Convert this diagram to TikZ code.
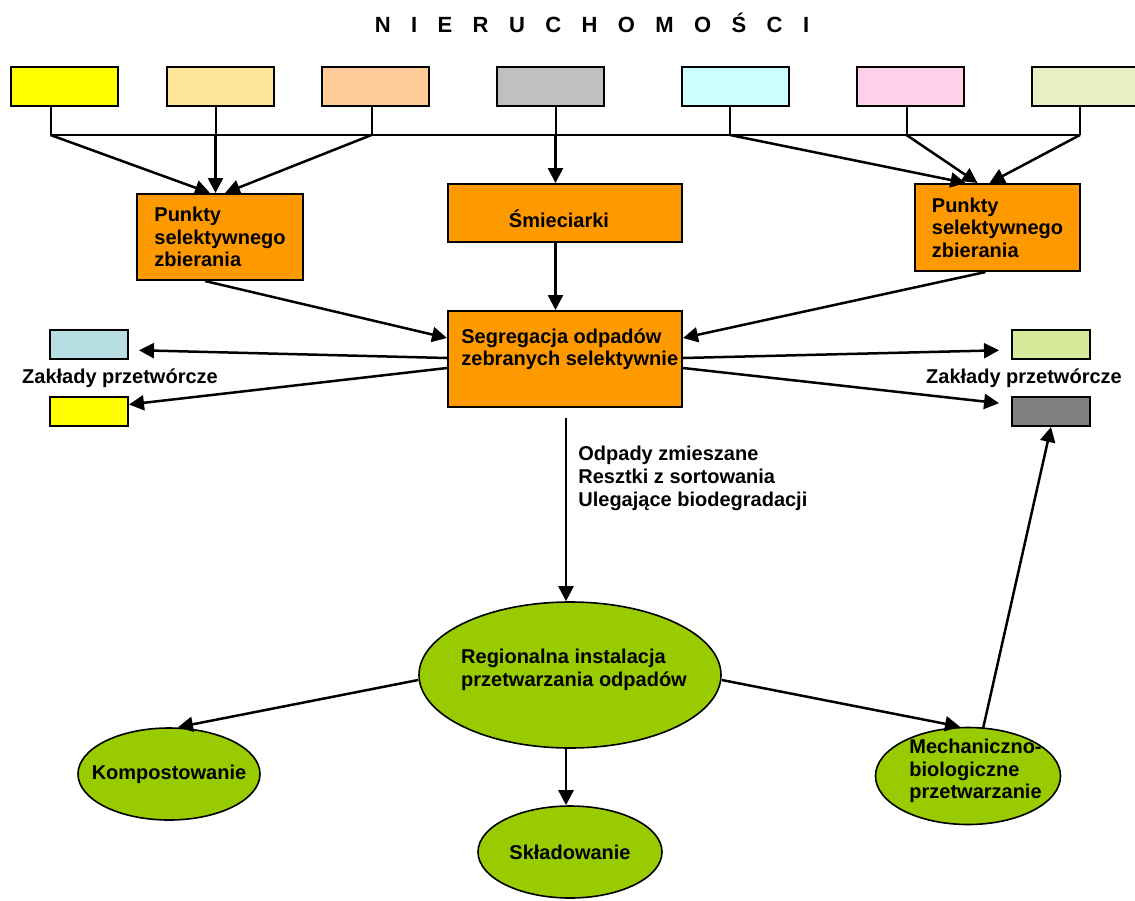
\documentclass[tikz,border=0pt]{standalone}
\usepackage{fontspec}
\setmainfont{Liberation Sans}
\usetikzlibrary{shapes.geometric,arrows.meta}
\definecolor{cYellow}{HTML}{FFFF00}
\definecolor{cCream}{HTML}{FFE699}
\definecolor{cPeach}{HTML}{FFCC99}
\definecolor{cSilver}{HTML}{C0C0C0}
\definecolor{cCyan}{HTML}{CCFFFF}
\definecolor{cPink}{HTML}{FFD1E8}
\definecolor{cLime}{HTML}{E6F0C2}
\definecolor{cOrange}{HTML}{FF9900}
\definecolor{cBlue}{HTML}{B7DEE3}
\definecolor{cGreenish}{HTML}{D7E99B}
\definecolor{cGrey}{HTML}{808080}
\definecolor{cGreen}{HTML}{99CC00}
\tikzset{
  bin/.style={draw, line width=1pt, minimum width=53.5pt, minimum height=19.5pt, inner sep=0pt},
  hub/.style={draw, line width=1pt, fill=cOrange, align=left, inner sep=0pt},
  plant/.style={draw, line width=1pt, minimum width=39pt, minimum height=14.5pt, inner sep=0pt},
  blob/.style={draw, line width=0.8pt, ellipse, fill=cGreen, inner sep=0pt},
  txt/.style={align=left, inner sep=0pt},
  wire/.style={line width=1pt},
  arr/.style={line width=1.25pt, -{Triangle[length=7.5pt, width=7.5pt]}}
}
\begin{document}
\begin{tikzpicture}[x=0.5pt, y=-0.5pt, font=\bfseries\fontsize{10}{11.25}\selectfont]
\useasboundingbox (0,0) rectangle (1135,900);

% title
\node[anchor=base, inner sep=0pt, font=\bfseries\fontsize{11}{13}\selectfont] (title) at (592,32)
  {\spaceskip=10.2pt N I E R U C H O M O Ś C I};

% containers in the properties
\foreach \n/\x/\c in {1/64.5/cYellow, 2/220.5/cCream, 3/375.5/cPeach, 4/550.5/cSilver,
                      5/735/cCyan, 6/910.5/cPink, 7/1085/cLime}{
   \node[bin, fill=\c] (b\n) at (\x,86.5) {};
}
\coordinate (bus) at (0,135);
\foreach \n/\s in {1/-14, 2/-5, 3/-4, 4/5, 5/-5, 6/-4, 7/-5}{
   \path ([xshift=\s*0.5pt]b\n.south) coordinate (t\n);
   \coordinate (f\n) at (t\n |- bus);
   \draw[wire] (t\n) -- (f\n);
}
\draw[wire] (f1) -- (f7);

% collection
\node[hub, minimum width=83pt, minimum height=43pt] (lp) at (220,237) {Punkty\\selektywnego\\zbierania};
\node[hub, minimum width=117pt, minimum height=29pt] (sm) at (565,213) {};
\node[txt, anchor=base] (smtxt) at (559,227) {Śmieciarki};
\node[hub, minimum width=82.5pt, minimum height=43.5pt] (rp) at (997.5,227.5) {Punkty\\selektywnego\\zbierania};
\node[hub, minimum width=117pt, minimum height=48pt] (seg) at (565,359) {};
\node[txt, anchor=north west] (segtxt) at (461,328) {Segregacja odpadów\\zebranych selektywnie};

\draw[arr] (f1) -- ([xshift=-5pt]lp.north);
\draw[arr] (f2) -- (f2 |- lp.north);
\draw[arr] (f3) -- ([xshift=2.5pt]lp.north);
\draw[arr] (f4) -- (f4 |- sm.north);
\draw[arr] (f5) -- ([xshift=-16pt]rp.north);
\draw[arr] (f6) -- ([xshift=-10pt]rp.north);
\draw[arr] (f7) -- ([xshift=-4pt]rp.north);
\draw[arr] (sm.south -| f4) -- (seg.north -| f4);
\draw[arr] ([xshift=-7.5pt]lp.south) -- ([yshift=10.5pt]seg.west);
\draw[arr] ([xshift=-6pt]rp.south) -- ([yshift=10.5pt]seg.east);

% processing plants
\node[plant, fill=cBlue] (pl1) at (89,344) {};
\node[plant, fill=cYellow] (pl2) at (89,411.5) {};
\node[plant, fill=cGreenish] (pr1) at (1051,344) {};
\node[plant, fill=cGrey] (pr2) at (1051,411.5) {};
\node (zl) at (120,378) {Zakłady przetwórcze};
\node (zr) at (1024,378) {Zakłady przetwórcze};

\draw[arr, shorten >=5pt] ([yshift=0.5pt]seg.west) -- ([yshift=-3pt]pl1.east);
\draw[arr] ([yshift=-4.5pt]seg.west) -- ([yshift=3.5pt]pl2.east);
\draw[arr, shorten >=6pt] ([yshift=0.5pt]seg.east) -- ([yshift=-3pt]pr1.west);
\draw[arr, shorten >=6pt] ([yshift=-4.5pt]seg.east) -- ([yshift=3.5pt]pr2.west);

% regional installation
\node[blob, minimum width=151pt, minimum height=73pt] (reg) at (570,675) {};
\node[txt] (regtxt) at (574,670) {Regionalna instalacja\\przetwarzania odpadów};
\node[blob, minimum width=91pt, minimum height=46pt] (kom) at (169,774) {};
\node[txt] (komtxt) at (kom) {Kompostowanie};
\node[blob, minimum width=92pt, minimum height=46pt] (skl) at (570,852) {};
\node[txt] (skltxt) at (skl) {Składowanie};
\node[blob, minimum width=92.5pt, minimum height=48.5pt] (mech) at (968,776) {};
\node[txt, anchor=west] (mechtxt) at (909,771) {Mechaniczno-\\biologiczne\\przetwarzanie};

\draw[arr, shorten <=5pt] (seg.south -| 566,0) -- (reg.north -| 566,0);
\node[txt, anchor=north west, font=\bfseries\fontsize{10}{11.5}\selectfont] (mix) at (578,446)
  {Odpady zmieszane\\Resztki z sortowania\\Ulegające biodegradacji};
\draw[arr] ([yshift=-2.5pt]reg.west) -- ([xshift=4.5pt]kom.north);
\draw[arr] (reg.south -| 566,0) -- (skl.north -| 566,0);
\draw[arr] ([yshift=-2.5pt]reg.east) -- ([xshift=-4pt]mech.north);
\draw[arr] ([xshift=7.5pt,yshift=-1pt]mech.north) -- (pr2.south);
\end{tikzpicture}
\end{document}
